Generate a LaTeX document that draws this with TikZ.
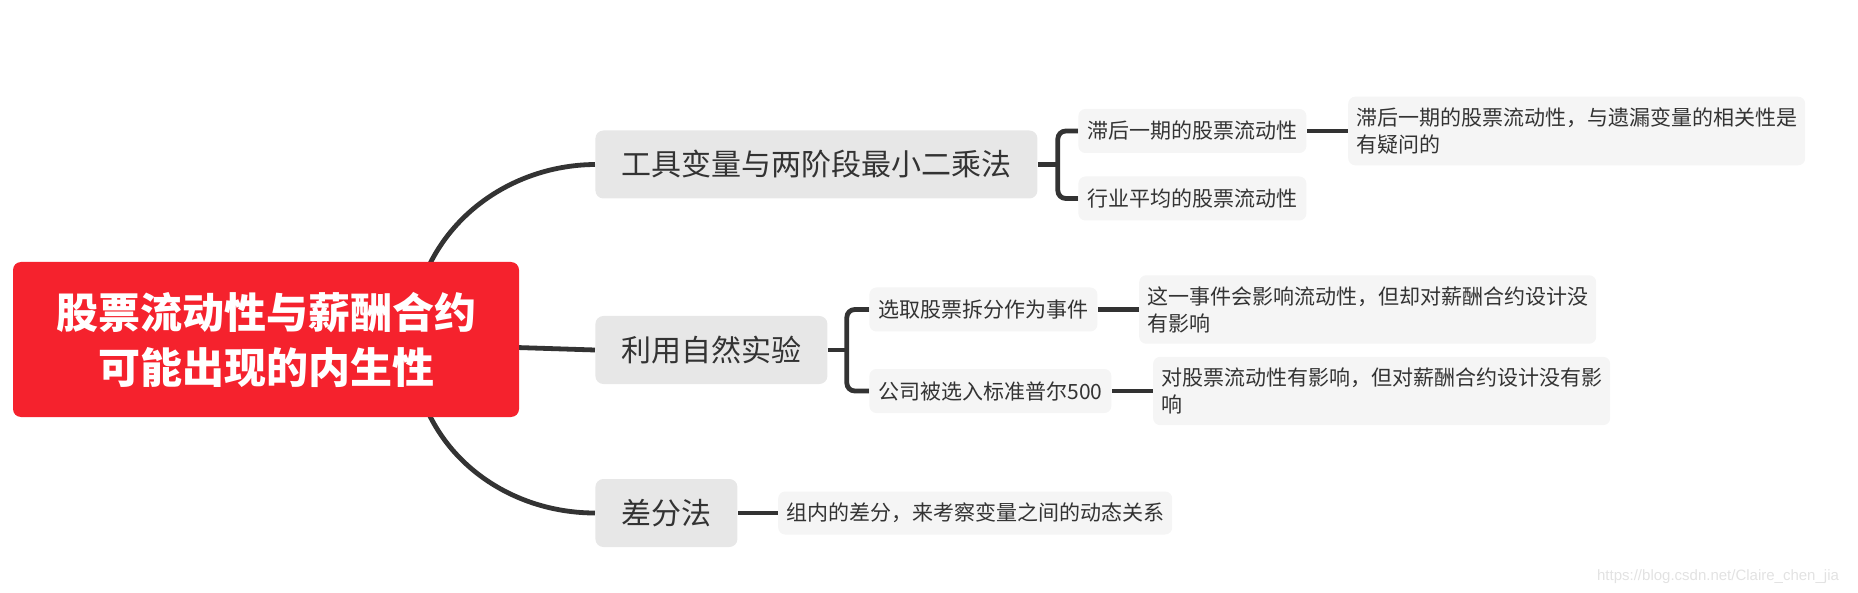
\documentclass[tikz,border=0pt]{standalone}
\usepackage{fontspec}
\setmainfont{Noto Sans CJK SC}
\newfontfamily\markfont{Liberation Sans}
\usetikzlibrary{positioning,calc,backgrounds}
\definecolor{rootred}{HTML}{F5222D}
\definecolor{topicgray}{HTML}{E7E7E7}
\definecolor{subgray}{HTML}{F5F5F5}
\definecolor{linegray}{HTML}{333333}
\definecolor{ink}{HTML}{333333}
\definecolor{markgray}{HTML}{E2E2E2}
\tikzset{
    every picture/.style={line cap=round,line join=round},
    rootnode/.style={fill=rootred,rounded corners=4pt,text=white,
      minimum width=253pt,minimum height=77.5pt,align=center,
      font=\fontsize{21}{27.5}\selectfont\bfseries},
    topicnode/.style={fill=topicgray,rounded corners=4pt,text=ink,
      minimum height=34pt,inner xsep=13pt,anchor=west,
      font=\fontsize{15}{18}\selectfont},
    subnode/.style={fill=subgray,rounded corners=3.5pt,text=ink,
      minimum height=22pt,inner xsep=4.5pt,anchor=west,
      font=\fontsize{10.5}{13.5}\selectfont},
    leafnode/.style={subnode,inner xsep=4pt,inner ysep=5.5pt,
      minimum height=21.5pt,align=left},
    branchline/.style={draw=linegray,line width=2.4pt},
    markstyle/.style={text=markgray,anchor=east,
      font=\markfont\fontsize{7.5}{9}\selectfont}
}
\begin{document}
\begin{tikzpicture}[x=0.5pt,y=-0.5pt]
  \useasboundingbox (0,0) rectangle (1858,593);
  % root and main topics
  \node[rootnode] (root) at (266,339.5) {股票流动性与薪酬合约\\可能出现的内生性};
  \node[topicnode] (iv) at (595,164.5) {工具变量与两阶段最小二乘法};
  \node[topicnode] (nat) at (595,350) {利用自然实验};
  \node[topicnode] (diff) at (595,513) {差分法};
  % sub topics
  \node[subnode] (lag) at (1078,131) {滞后一期的股票流动性};
  \node[subnode] (ind) at (1078,198.5) {行业平均的股票流动性};
  \node[subnode] (split) at (869,309.5) {选取股票拆分作为事件};
  \node[subnode] (sp) at (869,391) {公司被选入标准普尔500};
  % notes
  \node[leafnode,right=20.5pt of lag] (lagnote)
    {滞后一期的股票流动性，与遗漏变量的相关性是\\有疑问的};
  \node[leafnode,right=20.5pt of split] (splitnote)
    {这一事件会影响流动性，但却对薪酬合约设计没\\有影响};
  \node[leafnode,right=20.5pt of sp] (spnote)
    {对股票流动性有影响，但对薪酬合约设计没有影\\响};
  \node[leafnode,right=20pt of diff] (diffnote)
    {组内的差分，来考察变量之间的动态关系};
  \node[markstyle] (mark) at (1846,577) {https://blog.csdn.net/Claire\_chen\_jia};
  \coordinate (ivfork) at ($(iv.east)+(20,0)$);
  \coordinate (natfork) at ($(nat.east)+(19,0)$);
  \begin{scope}[on background layer]
    \draw[branchline] (418,295) .. controls (440,215) and (515,165) .. (iv.west);
    \draw[branchline] (root.center) -- (nat.west);
    \draw[branchline] (418,385) .. controls (440,465) and (515,513) .. (diff.west);
    \draw[branchline] (iv.east) -- (ivfork);
    \draw[branchline,rounded corners=4pt] (lag.west) -| (ivfork) |- (ind.west);
    \draw[branchline] (nat.east) -- (natfork);
    \draw[branchline,rounded corners=4pt] (split.west) -| (natfork) |- (sp.west);
    \draw[branchline] (lag) -- (lagnote);
    \draw[branchline] (split) -- (splitnote);
    \draw[branchline] (sp) -- (spnote);
    \draw[branchline] (diff) -- (diffnote);
  \end{scope}
\end{tikzpicture}
\end{document}
